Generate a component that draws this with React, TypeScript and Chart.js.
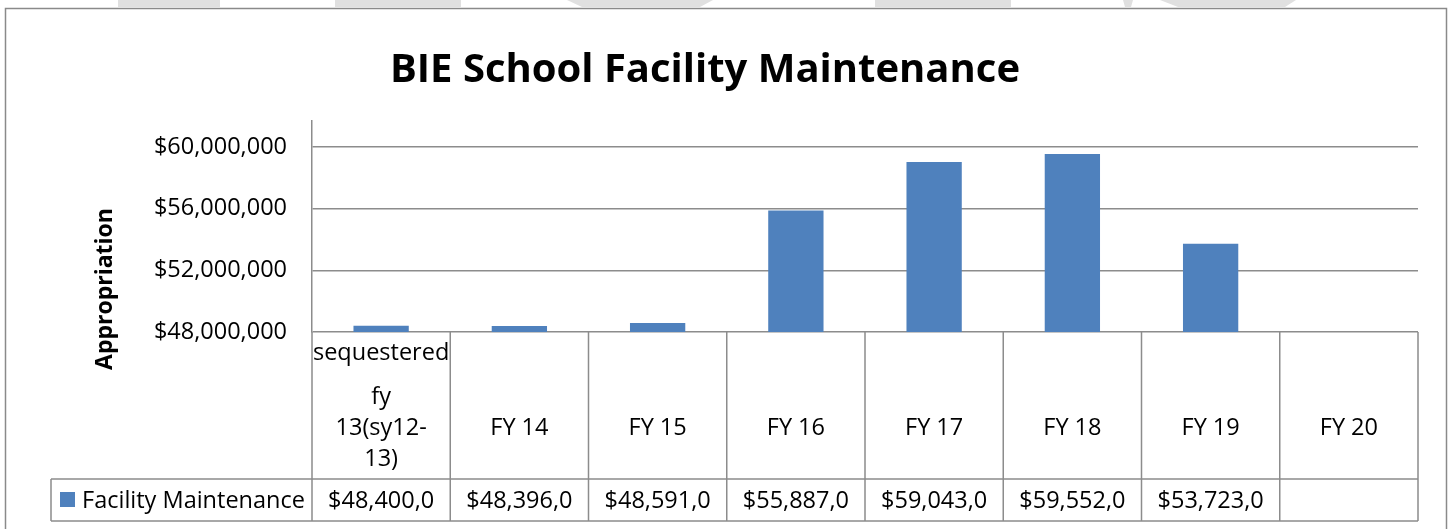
import { useEffect, useRef } from "react";
import { Chart, registerables } from "chart.js";

Chart.register(...registerables);

const chartTitle = "BIE School Facility Maintenance";
const yAxisTitle = "Appropriation";
const seriesName = "Facility Maintenance";
const categories: (string | string[])[] = [
  ["sequestered", "fy", "13(sy12-", "13)"],
  "FY 14",
  "FY 15",
  "FY 16",
  "FY 17",
  "FY 18",
  "FY 19",
  "FY 20",
];
const values: (number | null)[] = [
  48400000, 48396000, 48591000, 55887000, 59043000, 59552000, 53723000, null,
];
const yTicks = [48000000, 52000000, 56000000, 60000000];
const yMin = 48000000;
const yMax = 61700000;

const FONT = "'Open Sans', sans-serif";
const TXT = 23.5;
const GRID = "#8c8c8c";
const BAR = "#4F81BD";

const fmt = (v: number) => "$" + v.toLocaleString("en-US");

const decor = {
  id: "decor",
  beforeDraw(chart: any) {
    const ctx = chart.ctx;
    ctx.save();
    ctx.fillStyle = "#ffffff";
    ctx.fillRect(0, 0, chart.width, chart.height);
    // faint watermark fragments above the chart frame
    ctx.fillStyle = "#e0e0e0";
    ctx.fillRect(118, 0, 102, 7);
    ctx.fillRect(335, 0, 126, 7);
    ctx.beginPath();
    ctx.moveTo(567, 0); ctx.lineTo(713, 0); ctx.lineTo(700, 7); ctx.lineTo(582, 7);
    ctx.closePath(); ctx.fill();
    ctx.fillRect(875, 0, 136, 7);
    ctx.beginPath();
    ctx.moveTo(1123, 0); ctx.lineTo(1133, 0); ctx.lineTo(1131, 7); ctx.lineTo(1125, 7);
    ctx.closePath(); ctx.fill();
    ctx.beginPath();
    ctx.moveTo(1160, 0); ctx.lineTo(1296, 0); ctx.lineTo(1285, 7); ctx.lineTo(1178, 7);
    ctx.closePath(); ctx.fill();
    ctx.restore();
  },
  afterDraw(chart: any) {
    const { ctx, chartArea: a, scales } = chart;
    const x = scales.x;
    const n = categories.length;
    const step = (a.right - a.left) / n;
    const row1 = a.bottom + 147;
    const row2 = row1 + 42;
    const keyLeft = 51;
    ctx.save();

    // frame
    ctx.strokeStyle = "#8a8a8a";
    ctx.lineWidth = 1.5;
    ctx.strokeRect(5.5, 8.5, 1441, 600);

    // title
    ctx.fillStyle = "#000";
    ctx.font = `bold 40px ${FONT}`;
    ctx.textAlign = "center";
    ctx.textBaseline = "alphabetic";
    ctx.fillText(chartTitle, 705, 82);

    // y axis title
    ctx.save();
    ctx.translate(105, 289);
    ctx.rotate(-Math.PI / 2);
    ctx.font = `bold 23px ${FONT}`;
    ctx.textBaseline = "middle";
    ctx.fillText(yAxisTitle, 0, 0);
    ctx.restore();

    // data table lines
    ctx.strokeStyle = GRID;
    ctx.lineWidth = 1.5;
    ctx.beginPath();
    for (let i = 0; i <= n; i++) {
      const bx = a.left + i * step;
      ctx.moveTo(bx, a.bottom);
      ctx.lineTo(bx, row2);
    }
    ctx.moveTo(keyLeft, row1); ctx.lineTo(keyLeft, row2);
    ctx.moveTo(keyLeft, row1); ctx.lineTo(a.right, row1);
    ctx.moveTo(keyLeft, row2); ctx.lineTo(a.right, row2);
    ctx.stroke();

    // category labels
    ctx.fillStyle = "#000";
    ctx.font = `${TXT}px ${FONT}`;
    ctx.textAlign = "center";
    ctx.textBaseline = "alphabetic";
    categories.forEach((c, i) => {
      const cx = x.getPixelForValue(i);
      if (Array.isArray(c)) {
        const last = c.length - 1;
        c.forEach((line, j) => {
          const y = j === 0 ? a.bottom + 28 : a.bottom + 134 - (last - j) * 31;
          ctx.fillText(line, cx, y);
        });
      } else {
        ctx.fillText(c, cx, a.bottom + 103);
      }
    });

    // value row
    const maxW = step - 24;
    values.forEach((v, i) => {
      if (v == null) return;
      let s = fmt(v);
      while (s.length > 1 && ctx.measureText(s).width > maxW) s = s.slice(0, -1);
      ctx.fillText(s, x.getPixelForValue(i), row1 + 29);
    });

    // legend key + series name
    ctx.fillStyle = BAR;
    ctx.fillRect(60, row1 + 13, 15, 15);
    ctx.fillStyle = "#000";
    ctx.textAlign = "left";
    ctx.fillText(seriesName, 82, row1 + 29);

    ctx.restore();
  },
};

export default function App() {
  const ref = useRef<HTMLCanvasElement>(null);
  useEffect(() => {
    document.body.style.margin = "0";
    const chart = new Chart(ref.current!, {
      type: "bar",
      data: {
        labels: categories as any,
        datasets: [
          {
            label: seriesName,
            data: values as any,
            backgroundColor: BAR,
            barPercentage: 0.4,
            categoryPercentage: 1.0,
          },
        ],
      },
      options: {
        responsive: false,
        animation: false,
        layout: { padding: { left: 0, right: 34, top: 121, bottom: 197 } },
        plugins: {
          legend: { display: false },
          title: { display: false },
          tooltip: { enabled: false },
        },
        scales: {
          x: { display: false, offset: true },
          y: {
            min: yMin,
            max: yMax,
            afterBuildTicks: (s: any) => {
              s.ticks = yTicks.map((v) => ({ value: v }));
            },
            afterFit: (s: any) => {
              s.width = 312;
            },
            ticks: {
              callback: (v: any) => fmt(Number(v)),
              color: "#000",
              font: { family: FONT, size: TXT },
              padding: 25,
            },
            grid: { color: GRID, lineWidth: 1.5, drawTicks: false },
            border: { color: GRID, width: 1.5 },
          },
        },
      },
      plugins: [decor],
    });
    return () => chart.destroy();
  }, []);
  return (
    <div style={{ width: 1452, height: 529 }}>
      <canvas ref={ref} width={1452} height={529} style={{ display: "block" }} />
    </div>
  );
}
